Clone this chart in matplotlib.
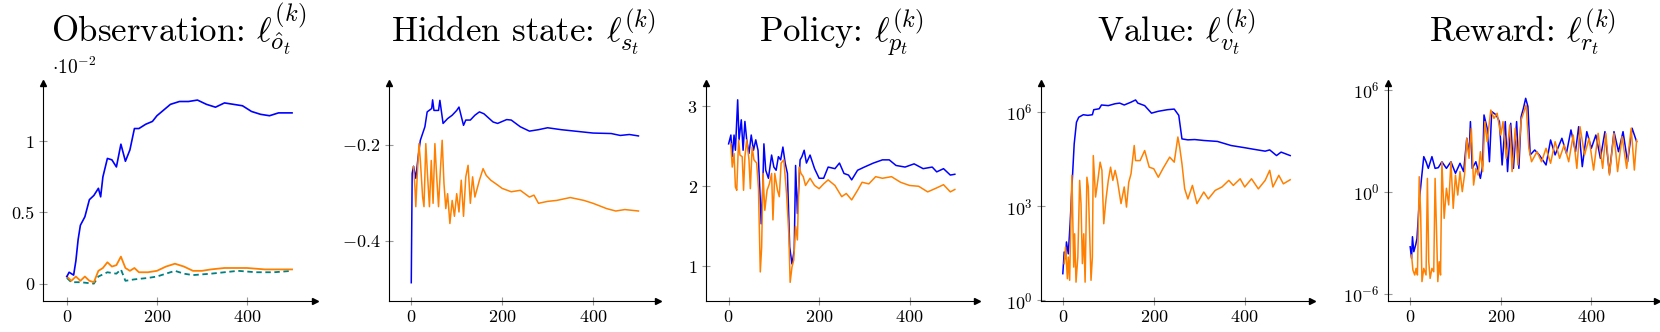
import matplotlib
matplotlib.use("Agg")
import matplotlib.pyplot as plt
import numpy as np

plt.rcParams["font.family"] = "serif"
plt.rcParams["font.serif"] = ["cmr10", "DejaVu Serif"]
plt.rcParams["mathtext.fontset"] = "cm"
plt.rcParams["axes.formatter.use_mathtext"] = True
plt.rcParams["axes.unicode_minus"] = False

BLUE = "#0000ff"
ORANGE = "#ff8000"
TEAL = "#008080"

# --- Observation (values in units of 1e-2) ---
obs_blue_x = [0, 5, 10, 15, 20, 25, 30, 40, 50, 60, 70, 75, 80, 90, 100, 110, 120, 130, 140, 150,
              160, 175, 190, 200, 215, 230, 250, 270, 290, 310, 330, 350, 370, 390, 410, 430, 450, 470, 500]
obs_blue_y = [0.05, 0.08, 0.07, 0.06, 0.16, 0.31, 0.41, 0.47, 0.59, 0.62, 0.67, 0.61, 0.75, 0.88, 0.87, 0.82,
              0.98, 0.86, 0.94, 1.09, 1.09, 1.12, 1.14, 1.18, 1.22, 1.26, 1.28, 1.28, 1.29, 1.26, 1.24, 1.27,
              1.26, 1.25, 1.21, 1.19, 1.18, 1.20, 1.20]
obs_orange_x = [0, 10, 20, 30, 40, 50, 60, 70, 80, 90, 100, 110, 120, 130, 140, 150, 160, 180, 200, 220,
                240, 260, 280, 300, 320, 350, 380, 400, 440, 470, 500]
obs_orange_y = [0.05, 0.02, 0.05, 0.02, 0.05, 0.02, 0.01, 0.09, 0.11, 0.15, 0.12, 0.13, 0.19, 0.11, 0.09,
                0.11, 0.08, 0.08, 0.09, 0.12, 0.14, 0.12, 0.09, 0.09, 0.10, 0.11, 0.11, 0.11, 0.10, 0.10, 0.10]
obs_teal_x = [0, 10, 30, 60, 70, 90, 110, 120, 130, 150, 180, 200, 240, 260, 280, 320, 380, 420, 460, 500]
obs_teal_y = [0.04, 0.01, 0.01, 0.00, 0.05, 0.08, 0.07, 0.10, 0.02, 0.03, 0.04, 0.05, 0.09, 0.07, 0.06,
              0.07, 0.09, 0.08, 0.08, 0.09]

# --- Hidden state ---
hid_blue_x = [0, 2, 5, 10, 15, 20, 30, 35, 45, 47, 50, 60, 63, 70, 80, 90, 100, 105, 115, 120, 130, 140,
              150, 160, 180, 190, 210, 220, 240, 260, 280, 300, 330, 360, 400, 440, 460, 480, 500]
hid_blue_y = [-0.487, -0.26, -0.245, -0.27, -0.226, -0.191, -0.163, -0.132, -0.125, -0.107, -0.129, -0.129,
              -0.108, -0.156, -0.146, -0.139, -0.129, -0.122, -0.16, -0.149, -0.149, -0.139, -0.132, -0.136,
              -0.153, -0.156, -0.148, -0.149, -0.163, -0.172, -0.169, -0.165, -0.169, -0.172, -0.176, -0.177,
              -0.181, -0.179, -0.182]
hid_orange_x = [5, 8, 10, 13, 17, 20, 25, 28, 32, 36, 40, 44, 48, 52, 56, 60, 64, 68, 72, 76, 80, 85, 90,
                95, 100, 105, 110, 115, 120, 125, 130, 135, 140, 150, 158, 165, 175, 190, 200, 220, 240, 260,
                270, 280, 300, 320, 350, 380, 400, 430, 450, 470, 500]
hid_orange_y = [-0.246, -0.288, -0.329, -0.267, -0.198, -0.233, -0.309, -0.329, -0.198, -0.267, -0.329,
                -0.233, -0.322, -0.198, -0.267, -0.329, -0.254, -0.191, -0.281, -0.333, -0.302, -0.364,
                -0.316, -0.349, -0.302, -0.34, -0.274, -0.349, -0.267, -0.243, -0.322, -0.267, -0.309,
                -0.274, -0.25, -0.264, -0.274, -0.284, -0.291, -0.298, -0.295, -0.309, -0.305, -0.322,
                -0.318, -0.316, -0.31, -0.316, -0.322, -0.333, -0.338, -0.335, -0.338]

# --- Policy ---
pol_blue_x = [0, 5, 8, 12, 15, 20, 23, 28, 32, 36, 40, 45, 50, 55, 60, 65, 70, 72, 75, 78, 82, 88, 95,
              100, 105, 110, 115, 120, 125, 130, 135, 140, 145, 148, 152, 158, 162, 167, 172, 180, 190,
              200, 210, 220, 235, 245, 255, 265, 272, 285, 300, 320, 340, 355, 370, 390, 410, 430, 450,
              460, 475, 490, 500]
pol_blue_y = [2.53, 2.64, 2.37, 2.64, 2.45, 3.08, 2.58, 2.83, 2.45, 2.81, 2.58, 2.41, 2.64, 2.45, 2.58,
              2.45, 1.83, 1.53, 1.91, 2.53, 2.2, 2.1, 2.39, 2.24, 2.2, 2.37, 2.33, 2.49, 2.29, 2.16, 1.24,
              1.03, 1.2, 2.26, 1.66, 2.33, 2.37, 2.45, 2.29, 2.39, 2.22, 2.1, 2.1, 2.24, 2.22, 2.29, 2.16,
              2.14, 2.08, 2.2, 2.24, 2.29, 2.33, 2.33, 2.26, 2.24, 2.28, 2.22, 2.24, 2.18, 2.22, 2.14, 2.15]
pol_orange_x = [5, 8, 12, 15, 18, 22, 25, 30, 33, 36, 40, 45, 48, 52, 56, 62, 66, 70, 73, 76, 80, 85, 90,
                95, 98, 102, 108, 112, 116, 122, 128, 133, 136, 140, 144, 148, 152, 156, 160, 165, 170,
                180, 190, 200, 210, 220, 235, 250, 260, 272, 285, 295, 310, 325, 340, 360, 380, 400, 420,
                440, 460, 475, 490, 500]
pol_orange_y = [2.53, 2.24, 2.41, 1.99, 1.95, 2.58, 2.39, 2.37, 1.95, 2.37, 2.58, 2.33, 1.97, 2.49, 2.33,
                2.29, 1.97, 0.93, 1.24, 2.16, 1.7, 1.95, 2.03, 2.16, 1.58, 2.16, 1.95, 1.87, 2.29, 2.33,
                1.91, 1.41, 0.8, 0.99, 1.08, 1.5, 1.33, 2.24, 2.16, 2.12, 2.01, 2.1, 2.01, 1.97, 2.03, 2.08,
                2.01, 1.87, 1.91, 1.83, 1.95, 2.05, 2.03, 2.12, 2.1, 2.12, 2.05, 2.01, 2.0, 1.93, 1.98,
                2.02, 1.93, 1.96]

# --- Value (log10 of the loss) ---
val_blue_x = [0, 3, 6, 8, 12, 16, 20, 25, 30, 35, 45, 55, 65, 68, 80, 85, 100, 115, 125, 135, 150, 160,
              165, 180, 195, 210, 230, 245, 255, 262, 275, 290, 310, 340, 370, 400, 420, 445, 455, 470,
              480, 500]
val_blue_log = [0.85, 1.54, 1.33, 1.86, 1.48, 2.44, 3.61, 4.98, 5.67, 5.83, 5.91, 5.89, 5.91, 6.07, 6.10,
                6.22, 6.20, 6.26, 6.28, 6.22, 6.31, 6.38, 6.28, 6.20, 5.96, 6.02, 6.07, 6.09, 5.89, 5.14,
                5.11, 5.12, 5.09, 5.06, 4.93, 4.86, 4.81, 4.75, 4.79, 4.61, 4.72, 4.61]
val_orange_x = [3, 6, 10, 12, 15, 18, 20, 24, 26, 29, 33, 37, 40, 43, 46, 49, 53, 56, 59, 62, 65, 67, 72,
                77, 82, 86, 90, 95, 100, 105, 110, 115, 120, 128, 135, 140, 145, 150, 157, 160, 170, 180,
                190, 200, 210, 220, 235, 245, 253, 257, 262, 268, 275, 285, 295, 310, 320, 335, 350, 365,
                375, 390, 400, 415, 430, 445, 455, 462, 475, 485, 500]
val_orange_log = [1.17, 1.70, 0.69, 1.38, 0.64, 2.76, 3.98, 1.06, 2.12, 0.58, 1.38, 3.82, 3.08, 1.17,
                  2.12, 0.58, 3.92, 3.61, 2.12, 0.64, 1.38, 4.61, 3.29, 3.82, 4.40, 4.14, 2.44, 3.23, 3.82,
                  4.24, 3.82, 4.14, 3.82, 3.08, 3.61, 2.97, 3.76, 4.03, 4.93, 4.45, 4.45, 4.77, 4.24, 4.19,
                  3.92, 4.19, 4.56, 4.40, 5.20, 4.88, 4.35, 3.55, 3.23, 3.66, 3.08, 3.45, 3.23, 3.50, 3.61,
                  3.82, 3.66, 3.87, 3.61, 3.87, 3.55, 3.82, 4.14, 3.61, 3.98, 3.71, 3.84]

# --- Reward (log10 of the loss) ---
rew_blue_x = [0, 3, 5, 8, 12, 15, 20, 25, 30, 35, 40, 48, 55, 62, 70, 80, 90, 100, 110, 118, 125, 130,
              133, 137, 145, 155, 160, 163, 170, 175, 180, 190, 197, 203, 210, 215, 222, 228, 235, 240,
              245, 250, 255, 260, 265, 275, 285, 300, 310, 320, 335, 345, 355, 365, 372, 380, 390, 400,
              410, 420, 430, 440, 450, 460, 470, 480, 490, 500]
rew_blue_log = [-3.24, -3.92, -2.65, -3.53, -3.14, -2.75, -0.59, 0.78, 2.06, 1.76, 1.37, 2.06, 1.37, 1.41,
                1.76, 1.37, 1.76, 1.08, 1.67, 1.18, 3.14, 2.16, 4.12, 1.37, 1.76, 0.78, 1.57, 4.51, 3.73,
                1.76, 4.71, 4.51, 4.12, 1.57, 4.12, 1.18, 4.02, 1.37, 4.12, 1.37, 4.41, 4.90, 5.49, 5.00,
                2.16, 2.45, 2.16, 1.57, 3.04, 2.16, 3.14, 2.25, 3.63, 2.35, 3.82, 1.47, 3.53, 2.55, 3.33,
                1.96, 3.53, 1.08, 3.53, 2.35, 3.53, 1.76, 3.73, 2.94]
rew_orange_x = [3, 6, 10, 13, 16, 20, 23, 26, 30, 35, 38, 41, 44, 48, 52, 55, 58, 61, 64, 67, 70, 75, 80,
                85, 90, 95, 100, 105, 110, 115, 120, 125, 130, 135, 140, 145, 150, 155, 160, 165, 170, 178,
                185, 192, 200, 205, 212, 220, 225, 232, 238, 245, 250, 256, 262, 268, 280, 290, 300, 310,
                320, 330, 340, 350, 360, 368, 375, 385, 395, 405, 415, 425, 432, 440, 450, 458, 468, 478,
                488, 495, 500]
rew_orange_log = [-3.73, -4.61, -4.90, -4.51, -4.90, 0.88, -1.18, -5.29, -4.51, -4.90, 0.78, -4.12, -5.10,
                  -4.51, -4.71, 0.78, -2.16, -5.29, -4.12, -4.90, 1.76, -1.57, 0.20, -0.78, 1.76, -0.98,
                  0.98, -0.20, 1.18, 0.0, 0.98, 3.14, 1.96, 3.73, 0.39, 1.37, 0.98, 2.35, 1.18, 4.12, 2.94,
                  4.80, 4.31, 4.61, 3.33, 4.12, 1.96, 3.92, 1.18, 3.73, 1.57, 4.22, 4.61, 5.10, 2.55, 1.76,
                  2.35, 1.76, 2.55, 1.67, 2.94, 1.96, 2.75, 1.76, 3.33, 1.37, 3.82, 2.16, 3.14, 1.27, 3.43,
                  1.37, 3.43, 0.98, 3.43, 1.18, 3.24, 1.37, 3.73, 1.27, 3.04]

titles = [
    r"Observation: $\ell^{(k)}_{\hat{o}_t}$",
    r"Hidden state: $\ell^{(k)}_{s_t}$",
    r"Policy: $\ell^{(k)}_{p_t}$",
    r"Value: $\ell^{(k)}_{v_t}$",
    r"Reward: $\ell^{(k)}_{r_t}$",
]

W, H = 1660, 332
fig = plt.figure(figsize=(W / 100, H / 100), dpi=100)

# axes boxes in pixels: left, right, top, bottom
boxes = [(43, 315, 83, 301), (389, 658, 83, 301), (706, 977, 83, 301),
         (1041, 1312, 83, 301), (1388, 1657, 83, 301)]
axes = []
for l, r, t, b in boxes:
    axes.append(fig.add_axes([l / W, (H - b) / H, (r - l) / W, (b - t) / H]))


def style(ax):
    for s in ["top", "right"]:
        ax.spines[s].set_visible(False)
    for s in ["left", "bottom"]:
        ax.spines[s].set_linewidth(0.8)
    ax.tick_params(direction="inout", length=6, width=0.8, color="#999999", labelsize=13, pad=3)
    ax.tick_params(which="minor", length=0)
    ax.plot(1, 0, ">", color="k", ms=5, transform=ax.transAxes, clip_on=False)
    ax.plot(0, 1, "^", color="k", ms=5, transform=ax.transAxes, clip_on=False)
    ax.set_xticks([0, 200, 400])


ax = axes[0]
ax.plot(obs_teal_x, obs_teal_y, color=TEAL, lw=1.3, ls=(0, (3, 2)))
ax.plot(obs_orange_x, obs_orange_y, color=ORANGE, lw=1.3)
ax.plot(obs_blue_x, obs_blue_y, color=BLUE, lw=1.2)
ax.set_xlim(-53, 551)
ax.set_ylim(-0.122, 1.41)
ax.set_yticks([0, 0.5, 1])
ax.set_yticklabels(["0", "0.5", "1"])
ax.text(0.033, 1.041, r"$\cdot 10^{-2}$", transform=ax.transAxes, fontsize=14, va="baseline")

ax = axes[1]
ax.plot(hid_blue_x, hid_blue_y, color=BLUE, lw=1.1)
ax.plot(hid_orange_x, hid_orange_y, color=ORANGE, lw=1.1)
ax.set_xlim(-49, 543)
ax.set_ylim(-0.525, -0.072)
ax.set_yticks([-0.4, -0.2])

ax = axes[2]
ax.plot(pol_blue_x, pol_blue_y, color=BLUE, lw=1.1)
ax.plot(pol_orange_x, pol_orange_y, color=ORANGE, lw=1.1)
ax.set_xlim(-50, 549)
ax.set_ylim(0.567, 3.29)
ax.set_yticks([1, 2, 3])

ax = axes[3]
ax.plot(val_blue_x, 10 ** np.array(val_blue_log), color=BLUE, lw=1.1)
ax.plot(val_orange_x, 10 ** np.array(val_orange_log), color=ORANGE, lw=1.1)
ax.set_yscale("log")
ax.set_xlim(-48, 548)
ax.set_ylim(10 ** -0.02, 10 ** 6.92)
ax.set_yticks([1, 1e3, 1e6])

ax = axes[4]
ax.plot(rew_blue_x, 10 ** np.array(rew_blue_log), color=BLUE, lw=1.1)
ax.plot(rew_orange_x, 10 ** np.array(rew_orange_log), color=ORANGE, lw=1.1)
ax.set_yscale("log")
ax.set_xlim(-49, 545)
ax.set_ylim(10 ** -6.43, 10 ** 6.39)
ax.set_yticks([1e-6, 1, 1e6])

for ax, t in zip(axes, titles):
    style(ax)
    # title baseline sits ~41 px above the top of the axes box
    ax.text(0.5, 1 + 41 / 218, t, transform=ax.transAxes, fontsize=25,
            ha="center", va="baseline")

fig.savefig("out.png", dpi=100)
